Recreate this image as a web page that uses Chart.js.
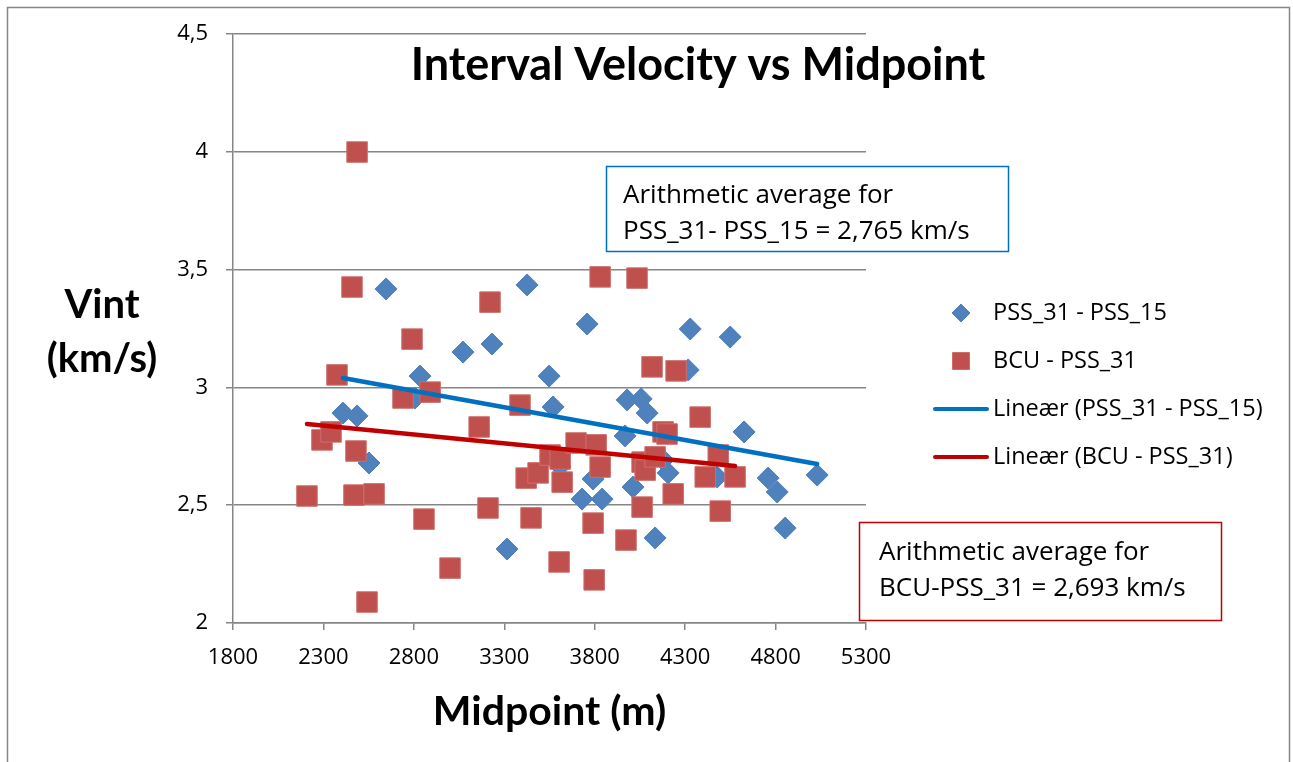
<!DOCTYPE html>
<html>
<head>
<meta charset="utf-8">
<title>Interval Velocity vs Midpoint</title>
<script src="https://cdn.jsdelivr.net/npm/chart.js@4.4.0/dist/chart.umd.min.js"></script>
<style>
  html, body { margin: 0; padding: 0; background: #fff; overflow: hidden; }
  #c { position: absolute; left: 0; top: 0; }
</style>
</head>
<body>
<canvas id="c" width="1293" height="762"></canvas>
<script>
// midpoint (m) and interval velocity (km/s)
const pssX = [2408, 2486, 2552, 2646, 2806, 2834, 3072, 3232, 3315, 3426, 3548, 3570,
              3609, 3730, 3758, 3791, 3841, 3968, 3979, 4012, 4057, 4090, 4134, 4178,
              4206, 4317, 4328, 4477, 4549, 4626, 4759, 4809, 4853, 5030];
const pssY = [2.891, 2.879, 2.679, 3.418, 2.955, 3.048, 3.150, 3.184, 2.314, 3.435, 3.048, 2.917,
              2.666, 2.526, 3.269, 2.611, 2.526, 2.794, 2.947, 2.577, 2.951, 2.891, 2.361, 2.692,
              2.637, 3.074, 3.248, 2.620, 3.214, 2.811, 2.615, 2.556, 2.403, 2.628];

const bcuX = [2209, 2292, 2342, 2375, 2458, 2469, 2480, 2486, 2541, 2580, 2740, 2790,
              2856, 2890, 3000, 3161, 3210, 3221, 3387, 3421, 3448, 3487, 3553, 3603,
              3609, 3620, 3697, 3791, 3797, 3808, 3830, 3830, 3973, 4034, 4062, 4062,
              4079, 4117, 4134, 4178, 4200, 4234, 4250, 4383, 4411, 4483, 4494, 4576];
const bcuY = [2.539, 2.777, 2.811, 3.053, 3.426, 2.543, 2.730, 3.999, 2.089, 2.548, 2.955, 3.205,
              2.441, 2.980, 2.233, 2.832, 2.488, 3.362, 2.925, 2.615, 2.446, 2.637, 2.713, 2.259,
              2.696, 2.598, 2.764, 2.424, 2.183, 2.756, 2.662, 3.469, 2.352, 3.464, 2.683, 2.492,
              2.649, 3.087, 2.705, 2.811, 2.802, 2.548, 3.070, 2.874, 2.620, 2.713, 2.475, 2.620];

// trendline end points
const trendPssX = [2408, 5030];
const trendPssY = [3.040, 2.675];
const trendBcuX = [2209, 4576];
const trendBcuY = [2.845, 2.666];

const seriesNames = ['PSS_31 - PSS_15', 'BCU - PSS_31', 'Lineær (PSS_31 - PSS_15)', 'Lineær (BCU - PSS_31)'];
const chartTitle = 'Interval Velocity vs Midpoint';
const yTitle = ['Vint', '(km/s)'];
const xTitle = 'Midpoint (m)';
const notePss = ['Arithmetic average for', 'PSS_31- PSS_15 = 2,765 km/s'];
const noteBcu = ['Arithmetic average for', 'BCU-PSS_31 = 2,693 km/s'];

const xMin = 1800, xMax = 5300, xStep = 500;
const yMin = 2, yMax = 4.5, yStep = 0.5;

const pts = (xs, ys) => xs.map((x, i) => ({ x: x, y: ys[i] }));

const GRID = '#868686';
const FONT = '"Open Sans", "Liberation Sans", sans-serif';
const BOLD = 'Lato, "Open Sans", sans-serif';

const decorations = {
  id: 'decorations',
  beforeDraw(chart) {
    const ctx = chart.ctx;
    ctx.save();
    ctx.fillStyle = '#fff';
    ctx.fillRect(0, 0, chart.width, chart.height);
    ctx.strokeStyle = GRID;
    ctx.lineWidth = 1.5;
    ctx.strokeRect(7.5, 7.5, 1282, 770);
    ctx.restore();
  },
  afterDraw(chart) {
    const ctx = chart.ctx;
    ctx.save();
    ctx.fillStyle = '#000';
    ctx.textBaseline = 'middle';

    // title
    ctx.textAlign = 'center';
    ctx.font = 'bold 45px ' + BOLD;
    ctx.fillText(chartTitle, 698, 65);

    // y axis title, horizontal like the original
    ctx.font = 'bold 40px ' + BOLD;
    ctx.fillText(yTitle[0], 102, 305);
    ctx.fillText(yTitle[1], 102, 359);

    // note boxes
    const box = (x, y, w, h, color, lines, tx, ty) => {
      ctx.fillStyle = '#fff';
      ctx.fillRect(x, y, w, h);
      ctx.strokeStyle = color;
      ctx.lineWidth = 1.5;
      ctx.strokeRect(x, y, w, h);
      ctx.fillStyle = '#000';
      ctx.textAlign = 'left';
      ctx.font = '26px ' + FONT;
      lines.forEach((t, i) => ctx.fillText(t, tx, ty + i * 36));
    };
    box(606.5, 166.5, 402, 85, '#0070C0', notePss, 623, 196);
    box(859.5, 522.5, 362, 98, '#C00000', noteBcu, 879, 553);

    // legend
    const ds = chart.data.datasets;
    ctx.font = '23.5px ' + FONT;
    ctx.textAlign = 'left';
    ds.forEach((d, i) => {
      const y = 313 + i * 48;
      if (d.showLine) {
        ctx.strokeStyle = d.borderColor;
        ctx.lineWidth = 4;
        ctx.lineCap = 'round';
        ctx.beginPath();
        ctx.moveTo(935, y);
        ctx.lineTo(987, y);
        ctx.stroke();
      } else {
        ctx.strokeStyle = d.borderColor;
        ctx.fillStyle = d.backgroundColor;
        ctx.lineWidth = 1;
        Chart.helpers.drawPoint(ctx, {
          pointStyle: d.pointStyle,
          radius: d.pointStyle === 'rect' ? 12 : 9,
          rotation: 0,
          borderWidth: 1
        }, 961, y);
      }
      ctx.fillStyle = '#000';
      ctx.fillText(d.label, 993, y);
    });
    ctx.restore();
  }
};

new Chart(document.getElementById('c'), {
  type: 'scatter',
  data: {
    datasets: [
      {
        label: seriesNames[0],
        data: pts(pssX, pssY),
        pointStyle: 'rectRot',
        pointRadius: 11,
        backgroundColor: '#4F81BD',
        borderColor: '#4F81BD',
        borderWidth: 1,
        order: 4
      },
      {
        label: seriesNames[1],
        data: pts(bcuX, bcuY),
        pointStyle: 'rect',
        pointRadius: 14.5,
        backgroundColor: '#C0504D',
        borderColor: '#CB6F6C',
        borderWidth: 1,
        order: 3
      },
      {
        label: seriesNames[2],
        data: pts(trendPssX, trendPssY),
        showLine: true,
        pointRadius: 0,
        borderColor: '#0070C0',
        borderWidth: 4.5,
        borderCapStyle: 'round',
        order: 2
      },
      {
        label: seriesNames[3],
        data: pts(trendBcuX, trendBcuY),
        showLine: true,
        pointRadius: 0,
        borderColor: '#C00000',
        borderWidth: 4.5,
        borderCapStyle: 'round',
        order: 1
      }
    ]
  },
  options: {
    responsive: false,
    animation: false,
    devicePixelRatio: 1,
    events: [],
    layout: { padding: { top: 34, right: 427, bottom: 0, left: 0 } },
    plugins: {
      legend: { display: false },
      tooltip: { enabled: false }
    },
    scales: {
      x: {
        type: 'linear',
        min: xMin,
        max: xMax,
        afterFit(s) { s.height = 139; },
        ticks: {
          stepSize: xStep,
          color: '#000',
          font: { family: FONT, size: 22 },
          padding: 15,
          maxRotation: 0,
          callback: v => String(v)
        },
        grid: { drawOnChartArea: false, drawTicks: true, tickLength: 7, color: GRID, lineWidth: 1.5 },
        border: { color: GRID, width: 1.5 },
        title: {
          display: true,
          text: xTitle,
          color: '#000',
          font: { family: BOLD, size: 41, weight: 'bold' },
          padding: { top: 0, bottom: 26 }
        }
      },
      y: {
        min: yMin,
        max: yMax,
        afterFit(s) { s.width = 233; },
        ticks: {
          stepSize: yStep,
          color: '#000',
          font: { family: FONT, size: 22 },
          padding: 18,
          callback: v => String(v).replace('.', ',')
        },
        grid: { color: GRID, lineWidth: 1.5, tickLength: 7, drawTicks: true },
        border: { color: GRID, width: 1.5 }
      }
    }
  },
  plugins: [decorations]
});
</script>
</body>
</html>
